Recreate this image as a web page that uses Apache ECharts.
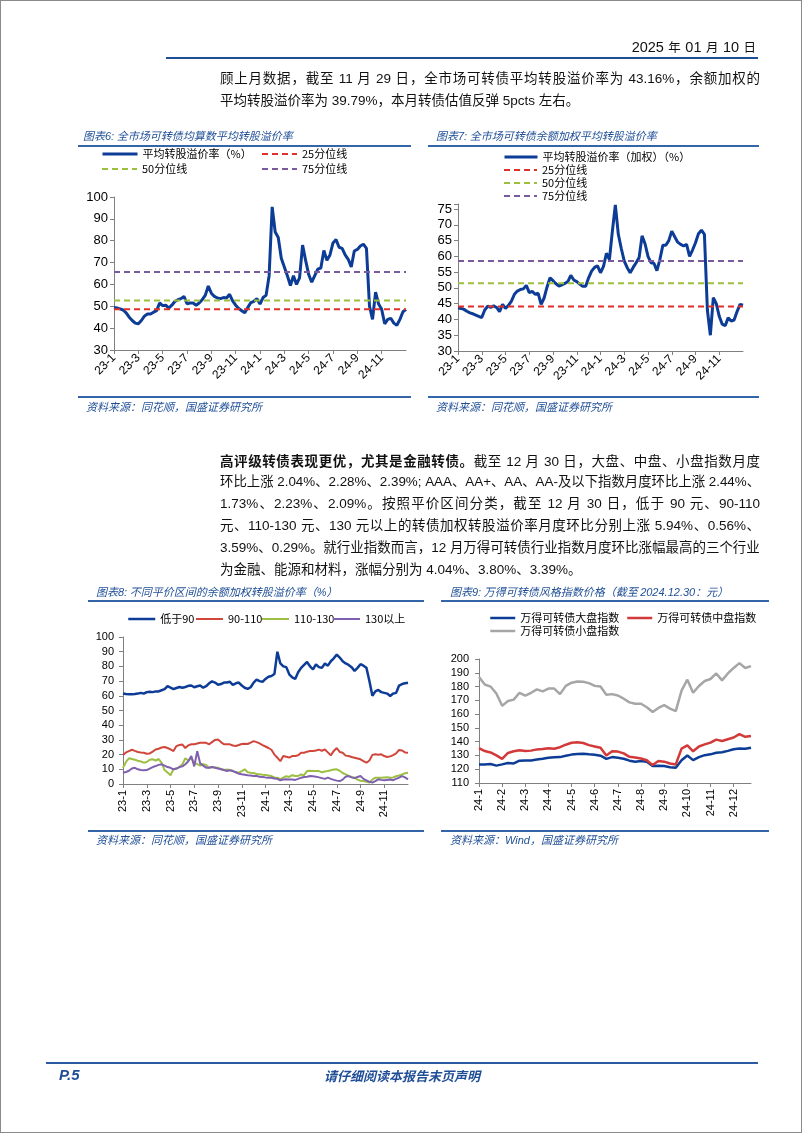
<!DOCTYPE html>
<html><head><meta charset="utf-8">
<script src="https://cdn.jsdelivr.net/npm/echarts@6/dist/echarts.min.js"></script>
<style>
html,body{margin:0;padding:0;background:#fff;}
#page{position:relative;width:802px;height:1133px;box-sizing:border-box;border:1px solid #8a8a8a;overflow:hidden;font-family:"Liberation Sans","Noto Sans CJK SC",sans-serif;color:#111;background:#fff;}
#chart{position:absolute;left:0;top:0;width:802px;height:1133px;}
.hl{position:absolute;height:2px;background:#3465a8;}
.ttl{position:absolute;font-family:"Noto Sans CJK SC",sans-serif;font-style:italic;font-size:11px;color:#1f4e96;line-height:14px;white-space:nowrap;}
.ttl .n{font-family:"Liberation Sans",sans-serif;}
.fit{position:absolute;left:219px;width:540px;font-size:13.5px;line-height:20px;white-space:nowrap;text-align:justify;text-align-last:justify;}
.left{text-align:left;text-align-last:left;}
.cj{font-family:"Noto Sans CJK SC",sans-serif;}
b{font-family:"Noto Sans CJK SC",sans-serif;font-weight:bold;}
</style></head>
<body>
<div id="page">
  <div id="chart"></div>
  <!-- header -->
  <div style="position:absolute;right:45px;top:37px;line-height:18px;white-space:nowrap;color:#111;"><span style="font-size:14.5px">2025</span> <span class="cj" style="font-size:12.5px">年</span> <span style="font-size:14.5px">01</span> <span class="cj" style="font-size:12.5px">月</span> <span style="font-size:14.5px">10</span> <span class="cj" style="font-size:12.5px">日</span></div>
  <div class="hl" style="left:165px;width:592px;top:56px;background:#1f4e96;"></div>

  <div class="fit" style="top:68px">顾上月数据，截至 11 月 29 日，全市场可转债平均转股溢价率为 43.16%，余额加权的</div>
  <div class="fit left" style="top:90px">平均转股溢价率为 39.79%，本月转债估值反弹 5pcts 左右。</div>

  <!-- chart 6 frame -->
  <div class="ttl" style="left:82px;top:127px">图表<span class="n">6:</span> 全市场可转债均算数平均转股溢价率</div>
  <div class="hl" style="left:77px;width:333px;top:144px;"></div>
  <div class="hl" style="left:77px;width:333px;top:395px;"></div>
  <div class="ttl" style="left:85px;top:398px">资料来源：同花顺，国盛证券研究所</div>

  <!-- chart 7 frame -->
  <div class="ttl" style="left:435px;top:127px">图表<span class="n">7:</span> 全市场可转债余额加权平均转股溢价率</div>
  <div class="hl" style="left:427px;width:331px;top:144px;"></div>
  <div class="hl" style="left:427px;width:331px;top:395px;"></div>
  <div class="ttl" style="left:435px;top:398px">资料来源：同花顺，国盛证券研究所</div>

  <!-- paragraph 2 -->
  <div class="fit" style="top:449px"><b>高评级转债表现更优，尤其是金融转债。</b>截至 12 月 30 日，大盘、中盘、小盘指数月度</div>
  <div class="fit" style="top:471px">环比上涨 2.04%、2.28%、2.39%; AAA、AA+、AA、AA-及以下指数月度环比上涨 2.44%、</div>
  <div class="fit" style="top:493px">1.73%、2.23%、2.09%。按照平价区间分类，截至 12 月 30 日，低于 90 元、90-110</div>
  <div class="fit" style="top:515px">元、110-130 元、130 元以上的转债加权转股溢价率月度环比分别上涨 5.94%、0.56%、</div>
  <div class="fit" style="top:537px">3.59%、0.29%。就行业指数而言，12 月万得可转债行业指数月度环比涨幅最高的三个行业</div>
  <div class="fit left" style="top:559px">为金融、能源和材料，涨幅分别为 4.04%、3.80%、3.39%。</div>

  <!-- chart 8 frame -->
  <div class="ttl" style="left:95px;top:583px">图表<span class="n">8:</span> 不同平价区间的余额加权转股溢价率（<span class="n">%</span>）</div>
  <div class="hl" style="left:87px;width:336px;top:599px;"></div>
  <div class="hl" style="left:87px;width:336px;top:829px;"></div>
  <div class="ttl" style="left:95px;top:831px">资料来源：同花顺，国盛证券研究所</div>

  <!-- chart 9 frame -->
  <div class="ttl" style="left:449px;top:583px">图表<span class="n">9:</span> 万得可转债风格指数价格（截至 <span class="n">2024.12.30</span>：元）</div>
  <div class="hl" style="left:440px;width:328px;top:599px;"></div>
  <div class="hl" style="left:440px;width:328px;top:829px;"></div>
  <div class="ttl" style="left:449px;top:831px">资料来源：<span class="n">Wind</span>，国盛证券研究所</div>

  <!-- footer -->
  <div class="hl" style="left:45px;width:712px;top:1061px;background:#2c5aa0;"></div>
  <div style="position:absolute;left:58px;top:1065px;font-size:15px;line-height:18px;font-weight:bold;font-style:italic;color:#1f4e96;">P.5</div>
  <div style="position:absolute;left:0;width:802px;text-align:center;top:1066px;font-family:'Noto Sans CJK SC',sans-serif;font-size:13px;line-height:18px;font-weight:bold;font-style:italic;color:#1f4e96;">请仔细阅读本报告末页声明</div>
</div>
<script>
// ---------------- data ----------------
// x tick labels
const monthTicks = ['23-1','23-3','23-5','23-7','23-9','23-11','24-1','24-3','24-5','24-7','24-9','24-11'];
const monthTicks24 = ['24-1','24-2','24-3','24-4','24-5','24-6','24-7','24-8','24-9','24-10','24-11','24-12'];
const SAMPLES_PER_MONTH = 4; // weekly readings

// Chart 6: arithmetic-mean conversion premium (%)
const premiumAvg = [
49.4,49.2,48.8,48.3, 47,45,43.5,42.3, 42,43.5,45.5,46.5, 46.5,47.3,48,51.5,
50.3,50.5,49.2,50.5, 52.2,53,53.5,54.5, 51.2,51.5,51.5,50.5, 51.5,53,55,59.3,
56,54.5,53.8,53.5, 54,53.8,55.5,52.5, 50.5,49,48,47, 49.5,51.7,52.3,53.5,
51,54,55,64, 95.5,84,81.5,72, 68,64,59.5,64, 60,63,78,71,
64.6,61,64,67, 67.5,75.5,71,73.5, 79,80.5,77,76.5, 73.5,71.5,68,75.3,
76,77.6,78.4,76.5, 50,44,56.5,51, 48.6,42,44,44.5, 42.3,41.3,44,47.5, 48.6];
const pct6 = {p25:48.6, p50:52.7, p75:65.7};

// Chart 7: balance-weighted conversion premium (%)
const premiumWeighted = [
43.7,43.5,43.2,42.6, 42.1,41.8,41.4,41, 40.6,43,44.2,43.8, 44.3,43.8,42.5,44.8,
43.5,44.5,45.8,48, 49,49.5,49.7,50.8, 48.5,48.9,48,48.3, 44.8,46.8,50.3,53.2,
52.3,51.3,50.6,51, 51.4,52,54,52.5, 52,51.2,50.5,50.5, 53.2,55.3,56.5,57,
54.8,56.8,61,59, 68,76.3,67,62.5, 58.5,56.4,54.8,56.5, 58,59.6,66.5,64,
60,58,57.8,55.5, 59,63.5,63.5,65, 68,66.2,64.5,63.8, 63.3,63.8,60,62,
64.3,67.2,68.3,67, 43,35,46.9,45, 41,38.5,38,40.5, 39.5,39.8,42.5,44.8, 44.5];
const pct7 = {p25:44.1, p50:51.5, p75:58.5};

// Chart 8: weighted premium by parity bucket (%)
const below90 = [
61.5,61.2,61,61, 61.2,61.5,62,61.5, 62.5,62.8,62.5,63, 63,63.8,64.5,66.5,
65.5,64.5,65.3,66, 65.5,66,66.8,67, 65.8,66.5,67,65.5, 66.5,68.5,69.8,69,
67.5,68,69,69, 69.5,67.5,68.5,69, 67,65.5,64.7,65.8, 69,71,70,69.5,
71.5,73,73.5,74.8, 90,82,80,79.5, 74.6,72.5,71.5,76, 79,81,83,80,
78,81.4,79.5,79, 82,80.5,83.5,85.5, 88,86,83.5,82, 81,79.5,76.9,79,
81.5,80.5,79,70, 60,63,64,62.5, 62,61.5,59.9,61.5, 62,67,68,68.5, 68.9];
const from90to110 = [
19.7,21.5,22.4,23.3, 22.5,21.8,21.5,21.3, 20.6,20.8,22,23.5, 24,24.8,25.2,24.5,
23.5,22.4,25.8,26.5, 26.8,24.5,26.3,27, 27,27.5,28,28.1, 28,27,28.5,30,
30.2,28.5,27,27, 27,26.2,25.9,26.5, 27.2,27.4,27.2,28.1, 29.2,28.5,27.6,26.5,
25.5,24.5,23.3,20, 17.9,15.5,19,18.5, 18,19,19,19.5, 21.2,21.3,22,22.4,
22.4,22.8,23.4,22.6, 23.5,21.5,19.5,22.5, 24.5,21.8,21.3,19.3, 19,18.4,17.9,17.4,
16.8,15.6,14.5,16, 19.8,20.2,19.9,20.2, 19,18.4,18.8,19.7, 20.8,23.2,22.8,21.5, 21.3];
const from110to130 = [
11,15,17.5,17, 16.5,15.8,15.3,14.5, 15,16.5,16.8,16, 17,14.5,9.5,7.8,
6,10,10.5,11.5, 13.4,17.5,16,17.5, 14.5,13.5,12.5,13.5, 13,11.1,11.5,11.3,
11,10.2,9.5,9.8, 9.5,8.8,8,7.7, 8.8,10,8,7.7, 7.5,6.8,6.6,6.3,
6.2,5.8,5.4,4.5, 4.3,3.3,4.3,5.3, 4.8,6,5.5,5.5, 6.5,6,8.8,9,
8.8,8.8,8.8,8, 8.5,8.8,9.3,9.8, 10,9,7.5,6.6, 5.5,4.8,4.3,3,
2.2,2,1.5,1, 3,4.3,4.3,4.3, 4.5,4.6,4.3,4.5, 5.3,5.8,6.5,7.3, 7.7];
const above130 = [
7.7,8.2,9,10.5, 11,10,9.5,9.3, 9.5,10.5,11.5,12.2, 13,13.4,12.5,11.5,
11,10,10.5,11.5, 12,13.4,15.5,19, 12,22.4,14,12.5, 11.1,11,11.5,11,
10.5,10,9.5,8.8, 9.3,8.8,8,7, 6.6,6.3,6,5.8, 5.4,5.4,5,4.8,
4.5,4.3,4.3,3.8, 3.5,2.5,3,3.3, 3,3,2.8,3.5, 4.3,4.8,5,5.4,
5.2,5,4.5,4, 3.5,4.3,3.5,2.8, 2.3,2,3,5, 5.4,4.5,4,4.8,
5.4,3.5,2.5,1.5, 1,2,3.2,2.8, 2.5,2.8,3,2.6, 3.5,4.3,5.4,4.5, 3.2];

// Chart 9: Wind CB style indices (2024, weekly)
const largeCap = [
123.5,123.5,123.8,122.6, 123.5,124.5,124.2,126.2, 126.4,126.4,127,127.6, 128.3,128.7,128.8,129.8,
130.6,131,131.2,130.8, 130.5,129.8,127.5,128.8, 128.3,127.6,126.2,125.5, 126,125.5,122.3,122.5,
122.3,121.5,121,126.5, 130,126.6,128.8,130.2, 130.8,132,132.3,133.3, 134.5,135,134.8,135.6];
const midCap = [
135.3,133.2,132.2,130, 127.5,131.8,133,133.7, 133.2,133.5,134.4,134.6, 135.3,134.9,136,137.8,
139.2,139.5,139,137.5, 136.5,135.6,130,133, 132.8,131.5,129,128.5, 127.8,126.5,123,125.9,
125.5,124.2,123.5,135, 137.3,133,136.5,138, 139.3,141.5,140.5,141.8, 143,145.5,143.5,144.1];
const smallCap = [
187,181.5,180,175, 166,169.5,170.5,175.5, 173.5,175.5,178,176.5, 178.5,178.5,174.5,180.5,
182.8,183.7,183.5,182.5, 180.5,180,174,174.5, 173.5,171.2,168.5,167.5, 167.5,165,161.5,164.5,
166.5,164,162.2,177, 185,175.5,180.4,184, 185.5,189.5,184.5,189.5, 193.5,197,193.5,194.8];

// ---------------- helpers ----------------
const AX = '#808080';
function toPts(arr){ return arr.map((v,i)=>[i/SAMPLES_PER_MONTH, v]); }
function flat(v, max){ return [[0, v],[max, v]]; }
function xAx(gi, max, interval, labels, rotate, fs, margin){
  return {type:'value', gridIndex:gi, min:0, max:max, interval:interval,
    axisLine:{show:true, onZero:false, lineStyle:{color:AX, width:1}},
    axisTick:{show:true, length:4, lineStyle:{color:AX}},
    splitLine:{show:false},
    axisLabel:{rotate:rotate, fontSize:fs, color:'#000', fontFamily:'Liberation Sans', margin:margin,
      showMaxLabel:false,
      formatter:function(v){ const k=v/interval; return (Math.abs(k-Math.round(k))<1e-6 && labels[Math.round(k)]!==undefined) ? labels[Math.round(k)] : ''; }}};
}
function yAx(gi, min, max, interval, fs, margin){
  return {type:'value', gridIndex:gi, min:min, max:max, interval:interval,
    axisLine:{show:true, onZero:false, lineStyle:{color:AX, width:1}},
    axisTick:{show:true, length:4, lineStyle:{color:AX}},
    splitLine:{show:false},
    axisLabel:{fontSize:fs, color:'#000', fontFamily:'Liberation Sans', margin:margin,
      formatter:function(v){ const k=v/interval; return Math.abs(k-Math.round(k))<1e-6 ? String(Math.round(v)) : ''; }}};
}
function ln(name, gi, data, color, width, dash, z){
  return {name:name, type:'line', xAxisIndex:gi, yAxisIndex:gi, data:data, symbol:'none', showSymbol:false,
    lineStyle:{color:color, width:width, type: dash ? [6,4] : 'solid'}, itemStyle:{color:color},
    emphasis:{disabled:true}, silent:true, animation:false, z: z||2};
}
function leg(name, x, y, w, lw){
  return {data:[name], left:x, top:y-7, padding:0, itemWidth:w, itemHeight:14, itemGap:0, selectedMode:false,
    itemStyle:{opacity:0, borderWidth:0},
    lineStyle:{width:lw},
    textStyle:{fontSize:11, color:'#000', fontFamily:'Noto Sans CJK SC', lineHeight:14}};
}

const BLUE='#0c3c96', RED_D='#e0302a', GREEN_D='#9cbf3e', PURPLE_D='#7a5a9e';
const n6 = '平均转股溢价率（%）', n7 = '平均转股溢价率（加权）（%）';

const option = {
  animation:false,
  grid:[
    {left:113, top:196, width:292, height:153, outerBoundsMode:'none'},
    {left:457, top:203, width:285, height:147, outerBoundsMode:'none'},
    {left:122, top:636, width:285, height:147, outerBoundsMode:'none'},
    {left:478, top:658, width:272, height:124, outerBoundsMode:'none'}
  ],
  xAxis:[
    xAx(0, 24, 2, monthTicks, 45, 12, 6),
    xAx(1, 24, 2, monthTicks, 45, 12, 6),
    xAx(2, 24, 2, monthTicks, 90, 11, 6),
    xAx(3, 11.75, 1, monthTicks24, 90, 11, 6)
  ],
  yAxis:[
    yAx(0, 30, 100, 10, 13, 6),
    yAx(1, 30, 76.6, 5, 13, 6),
    yAx(2, 0, 100, 10, 11, 9),
    yAx(3, 110, 200, 10, 11, 10)
  ],
  legend:[
    leg(n6, 100, 153, 35, 3), leg('25分位线', 260, 153, 35, 2),
    leg('50分位线', 100, 168, 35, 2), leg('75分位线', 260, 168, 35, 2),
    leg(n7, 502, 156, 33, 3), leg('25分位线', 502, 169, 33, 2),
    leg('50分位线', 502, 182, 33, 2), leg('75分位线', 502, 195, 33, 2),
    leg('低于90', 126, 618, 27, 2.5), leg('90-110', 194, 618, 27, 2),
    leg('110-130', 260, 618, 27, 2), leg('130以上', 331, 618, 27, 2),
    leg('万得可转债大盘指数', 488, 617, 25, 2.5), leg('万得可转债中盘指数', 625, 617, 25, 2.5),
    leg('万得可转债小盘指数', 488, 630, 25, 2.5)
  ],
  series:[
    ln(n6, 0, toPts(premiumAvg), BLUE, 3, false, 2),
    ln('25分位线', 0, flat(pct6.p25, 24), RED_D, 2, true, 3),
    ln('50分位线', 0, flat(pct6.p50, 24), GREEN_D, 2, true, 3),
    ln('75分位线', 0, flat(pct6.p75, 24), PURPLE_D, 2, true, 3),

    ln(n7, 1, toPts(premiumWeighted), BLUE, 3, false, 2),
    ln('25分位线', 1, flat(pct7.p25, 24), RED_D, 2, true, 3),
    ln('50分位线', 1, flat(pct7.p50, 24), GREEN_D, 2, true, 3),
    ln('75分位线', 1, flat(pct7.p75, 24), PURPLE_D, 2, true, 3),

    ln('低于90', 2, toPts(below90), BLUE, 2.5),
    ln('90-110', 2, toPts(from90to110), '#d0463b', 2),
    ln('110-130', 2, toPts(from110to130), '#9dc044', 2),
    ln('130以上', 2, toPts(above130), '#7f5fb0', 2),

    ln('万得可转债大盘指数', 3, toPts(largeCap), BLUE, 2.5),
    ln('万得可转债中盘指数', 3, toPts(midCap), '#d23a3a', 2.5),
    ln('万得可转债小盘指数', 3, toPts(smallCap), '#a6a6a6', 2.5)
  ]
};
const chart = echarts.init(document.getElementById('chart'), null, {renderer:'canvas'});
chart.setOption(option);

// fit justified text lines to their width
document.querySelectorAll('.fit').forEach(function(el){
  const w = el.clientWidth, sw = el.scrollWidth;
  if (sw > w + 0.5) {
    el.style.textAlign = 'left'; el.style.textAlignLast = 'left';
    el.style.width = sw + 'px';
    el.style.transformOrigin = '0 50%';
    el.style.transform = 'scaleX(' + (w / sw) + ')';
  }
});
</script>
</body></html>
